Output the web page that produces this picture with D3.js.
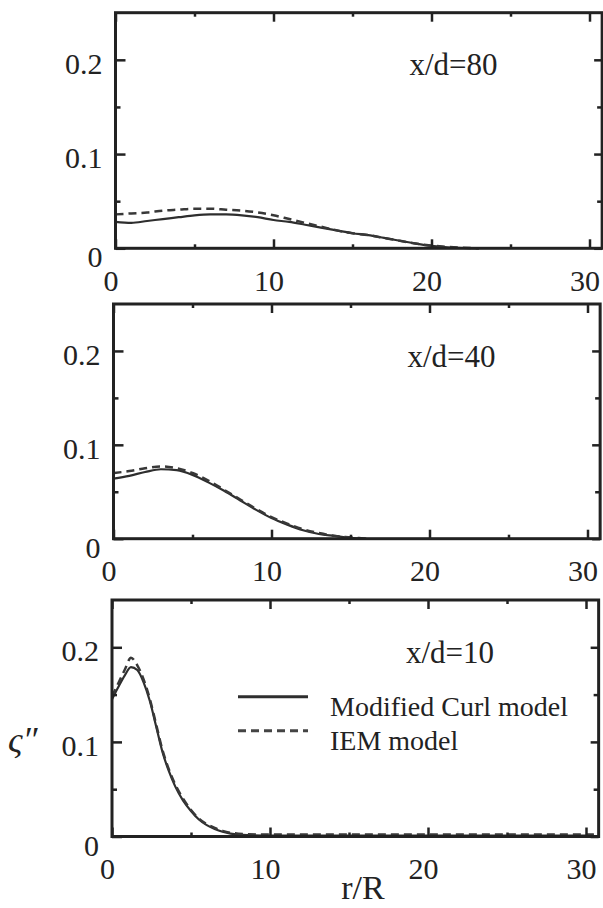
<!DOCTYPE html>
<html>
<head>
<meta charset="utf-8">
<script src="https://cdn.jsdelivr.net/npm/d3@7/dist/d3.min.js"></script>
<style>
  body { margin: 0; background: #fff; }
  svg { display: block; }
  svg text { font-family: "Liberation Serif", "Times New Roman", "DejaVu Serif", serif; }
</style>
</head>
<body>
<div class="canvas"></div>
<script>
// scalar fluctuation profiles at three stations
const stations = ["x/d=80", "x/d=40", "x/d=10"];

const r80 = [0, 1, 2, 3, 4, 5, 6, 7, 8, 9, 10, 11, 12, 13, 14, 15, 16, 17, 18, 19, 20, 21, 22, 23];
const curl80 = [0.028, 0.027, 0.029, 0.031, 0.033, 0.035, 0.036, 0.036, 0.035, 0.033, 0.030, 0.028, 0.025, 0.022, 0.019, 0.016, 0.014, 0.011, 0.008, 0.005, 0.0025, 0.001, 0.0003, 0];
const iem80 = [0.036, 0.037, 0.038, 0.040, 0.041, 0.042, 0.042, 0.041, 0.040, 0.038, 0.035, 0.031, 0.027, 0.023, 0.019, 0.016, 0.014, 0.011, 0.008, 0.005, 0.003, 0.0015, 0.0005, 0];

const r40 = [0, 1, 2, 3, 4, 5, 6, 7, 8, 9, 10, 11, 12, 13, 14, 15, 16];
const curl40 = [0.064, 0.067, 0.071, 0.074, 0.073, 0.068, 0.060, 0.051, 0.041, 0.031, 0.022, 0.015, 0.009, 0.005, 0.003, 0.001, 0];
const iem40 = [0.070, 0.072, 0.075, 0.077, 0.075, 0.070, 0.062, 0.052, 0.042, 0.032, 0.023, 0.016, 0.010, 0.006, 0.003, 0.0015, 0];

const r10 = [0, 0.4, 0.8, 1.2, 1.6, 2.0, 2.4, 2.8, 3.2, 3.6, 4.0, 4.5, 5.0, 5.5, 6.0, 6.5, 7, 8, 10, 15, 20, 25, 30.5];
const curl10 = [0.145, 0.158, 0.170, 0.179, 0.176, 0.163, 0.143, 0.116, 0.089, 0.069, 0.053, 0.038, 0.027, 0.018, 0.012, 0.008, 0.005, 0.002, 0.001, 0.001, 0.001, 0.001, 0.001];
const iem10 = [0.148, 0.162, 0.176, 0.189, 0.181, 0.166, 0.145, 0.118, 0.091, 0.071, 0.055, 0.040, 0.028, 0.019, 0.013, 0.009, 0.006, 0.003, 0.002, 0.002, 0.002, 0.002, 0.002];

const xTicks = [0, 10, 20, 30];
const xMinor = [5, 15, 25];
const yTicks = [0, 0.1, 0.2];
const yMinor = [0.05, 0.15];
const yTickLabels = ["0", "0.1", "0.2"];
const legendNames = ["Modified Curl model", "IEM model"];

const series = [
    { r: r80, curl: curl80, iem: iem80 },
    { r: r40, curl: curl40, iem: iem40 },
    { r: r10, curl: curl10, iem: iem10 }
];

// where each scanned panel sits on the page
const boxes = [
    { left: 115.5, top: 12.7, bottom: 248.3 },
    { left: 113.5, top: 304, bottom: 538.7 },
    { left: 112, top: 600, bottom: 836.5 }
];
const xMax = 30.8, pxPerUnit = 15.8;
const ink = "#222";
const serif = "'Liberation Serif', 'Times New Roman', 'DejaVu Serif', serif";

const svg = d3.select(".canvas").append("svg")
    .attr("width", 603)
    .attr("height", 908);

function drawPanel(i) {
    const b = boxes[i];
    const s = series[i];
    const right = b.left + xMax * pxPerUnit;

    const x = d3.scaleLinear().domain([0, xMax]).range([b.left, right]);
    const y = d3.scaleLinear().domain([0, 0.25]).range([b.bottom, b.top]);

    const g = svg.append("g");

    const line = (vals) => d3.line()
        .x((d, k) => x(s.r[k]))
        .y((d) => y(d))
        .curve(d3.curveMonotoneX)(vals);

    g.append("path")
        .attr("d", line(s.curl))
        .attr("fill", "none")
        .attr("stroke", "#2e2e2e")
        .attr("stroke-width", 2.2);

    g.append("path")
        .attr("d", line(s.iem))
        .attr("fill", "none")
        .attr("stroke", "#383838")
        .attr("stroke-width", 2.5)
        .attr("stroke-dasharray", "8,5");

    // inward ticks on all four sides
    const noLabel = () => "";
    const addAxis = (axis, tx, ty) => {
        const a = g.append("g").attr("transform", `translate(${tx},${ty})`).call(axis);
        a.attr("font-family", serif);
        a.select(".domain").remove();
        a.selectAll("line").attr("stroke", ink).attr("stroke-width", 2.5);
        return a;
    };

    const bottomAx = addAxis(d3.axisBottom(x).tickValues(xTicks).tickSize(-9).tickPadding(21), 0, b.bottom);
    bottomAx.selectAll("text")
        .attr("x", -5)
        .attr("fill", ink)
        .attr("font-family", serif)
        .attr("font-size", 30)
        .text((d) => d);
    addAxis(d3.axisBottom(x).tickValues(xMinor).tickSize(-4).tickFormat(noLabel), 0, b.bottom);
    addAxis(d3.axisTop(x).tickValues(xTicks).tickSize(-9).tickFormat(noLabel), 0, b.top);
    addAxis(d3.axisTop(x).tickValues(xMinor).tickSize(-4).tickFormat(noLabel), 0, b.top);

    const leftAx = addAxis(d3.axisLeft(y).tickValues(yTicks).tickSize(-10).tickPadding(13)
        .tickFormat((d, k) => yTickLabels[k]), b.left, 0);
    leftAx.selectAll("text")
        .attr("fill", ink)
        .attr("dy", (d) => d === 0 ? "0.62em" : "0.45em")
        .attr("font-family", serif)
        .attr("font-size", 30);
    addAxis(d3.axisLeft(y).tickValues(yMinor).tickSize(-5).tickFormat(noLabel), b.left, 0);
    addAxis(d3.axisRight(y).tickValues(yTicks).tickSize(-8).tickFormat(noLabel), right, 0);
    addAxis(d3.axisRight(y).tickValues(yMinor).tickSize(-5).tickFormat(noLabel), right, 0);

    g.append("rect")
        .attr("x", b.left)
        .attr("y", b.top)
        .attr("width", right - b.left)
        .attr("height", b.bottom - b.top)
        .attr("fill", "none")
        .attr("stroke", ink)
        .attr("stroke-width", 3);

    g.append("text")
        .attr("x", b.left + 294)
        .attr("y", b.top + 62.5)
        .attr("fill", ink)
        .attr("font-family", serif)
        .attr("font-size", 31)
        .text(stations[i]);

    return g;
}

const gs = boxes.map((b, i) => drawPanel(i));

// legend lives in the last panel
const lb = boxes[2];
const legend = gs[2].append("g").attr("transform", `translate(${lb.left},${lb.top})`);
legendNames.forEach((name, k) => {
    const ly = k === 0 ? 96.7 : 130.7;
    legend.append("line")
        .attr("x1", 126).attr("x2", 196)
        .attr("y1", ly).attr("y2", ly)
        .attr("stroke", k === 0 ? "#2e2e2e" : "#444")
        .attr("stroke-width", 3)
        .attr("stroke-dasharray", k === 0 ? null : "8,5");
    legend.append("text")
        .attr("x", 218)
        .attr("y", ly + 19)
        .attr("fill", ink)
        .attr("font-family", serif)
        .attr("font-size", 28)
        .text(name);
});

// axis titles
svg.append("text")
    .attr("x", 363)
    .attr("y", 899)
    .attr("text-anchor", "middle")
    .attr("fill", ink)
    .attr("font-family", serif)
    .attr("font-size", 34)
    .text("r/R");

svg.append("text")
    .attr("x", 8)
    .attr("y", 752)
    .attr("fill", ink)
    .attr("font-family", serif)
    .attr("font-size", 36)
    .attr("font-style", "italic")
    .text("ς″");
</script>
</body>
</html>
